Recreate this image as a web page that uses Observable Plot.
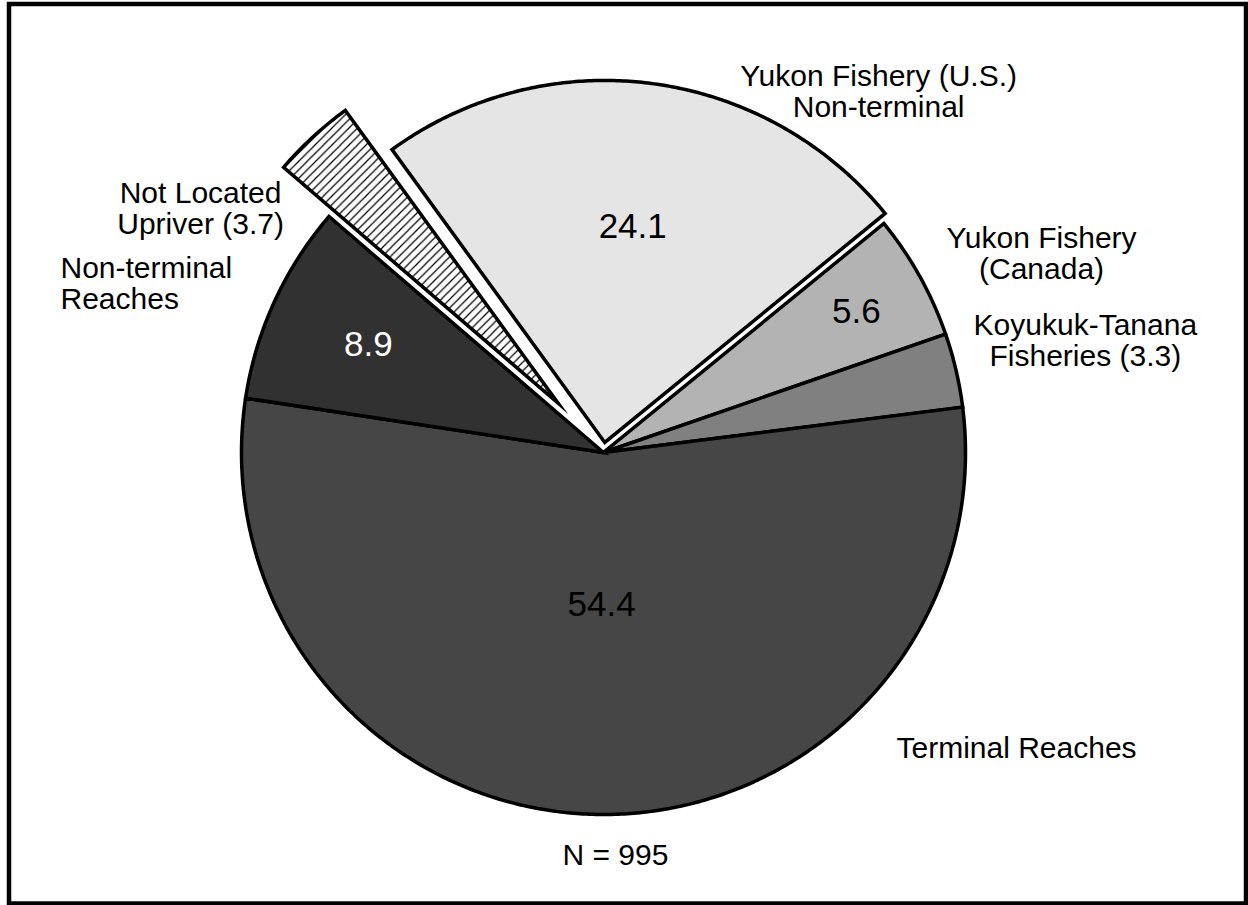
<!DOCTYPE html>
<html><head><meta charset="utf-8">
<script src="https://cdn.jsdelivr.net/npm/d3@7"></script>
<script src="https://cdn.jsdelivr.net/npm/@observablehq/plot@0.6"></script>
<style>body{margin:0;background:#fff;} #chart svg{display:block;}</style>
</head><body><div id="chart"></div>
<script>
// ---- data ----
const categories = ["Yukon Fishery (U.S.) Non-terminal", "Yukon Fishery (Canada)", "Koyukuk-Tanana Fisheries", "Terminal Reaches", "Non-terminal Reaches", "Not Located Upriver"];
const percents = [24.1, 5.6, 3.3, 54.4, 8.9, 3.7];
const valueLabels = ["24.1", "5.6", "", "54.4", "8.9", ""];
const outerLabels = ["Yukon Fishery (U.S.)\nNon-terminal", "Yukon Fishery\n(Canada)", "Koyukuk-Tanana\nFisheries (3.3)", "Terminal Reaches", "Non-terminal\nReaches", "Not Located\nUpriver (3.7)"];
const sampleNote = "N = 995";

// ---- styles / layout ----
const fills = ["#e5e5e5", "#b3b3b3", "#808080", "#464646", "#313131", "url(#hatch)"];
const explode = [0.028, 0, 0, 0, 0, 0.185];
const valueRadius = [0.60, 0.80, 0, 0.42, 0.715, 0];
const valueColor = ["black", "black", "black", "black", "white", "black"];
const outerPos = [[0.76, 0.997, "middle"], [1.21, 0.55, "middle"], [1.331, 0.31, "middle"], [1.141, -0.815, "middle"], [-1.5, 0.467, "start"], [-1.113, 0.674, "middle"]];
const notePos = [0.033, -1.113];
const startAngle = -36;
const R = 362, cx = 603, cy = 452, W = 1248, H = 905;

const total = d3.sum(percents);
let acc = startAngle;
const slices = categories.map((c, i) => {
  const a0 = acc, a1 = acc + percents[i] / total * 360; acc = a1;
  const mid = (a0 + a1) / 2 * Math.PI / 180;
  const ox = explode[i] * Math.sin(mid), oy = explode[i] * Math.cos(mid);
  const pts = [{x: ox, y: oy}];
  const n = Math.max(2, Math.ceil((a1 - a0) / 0.5));
  for (let k = 0; k <= n; k++) {
    const a = (a0 + (a1 - a0) * k / n) * Math.PI / 180;
    pts.push({x: ox + Math.sin(a), y: oy + Math.cos(a)});
  }
  pts.push({x: ox, y: oy});
  pts.push(pts[1]);
  return {i, c, mid, ox, oy, pts};
});

const order = slices.slice().sort((a, b) => explode[a.i] - explode[b.i]);
const sliceMarks = order.map(s => Plot.line(s.pts, {
  x: "x", y: "y", fill: fills[s.i], stroke: "black", strokeWidth: 3.5,
  strokeLinejoin: "miter", strokeLinecap: "butt", strokeMiterlimit: 12, curve: "linear"
}));

const valueData = slices.filter(s => valueLabels[s.i]).map(s => ({
  x: s.ox + valueRadius[s.i] * Math.sin(s.mid),
  y: s.oy + valueRadius[s.i] * Math.cos(s.mid),
  text: valueLabels[s.i], color: valueColor[s.i]
}));
const outerData = slices.map(s => ({x: outerPos[s.i][0], y: outerPos[s.i][1], anchor: outerPos[s.i][2], text: outerLabels[s.i]}));

const font = "'Liberation Sans', Arial, Helvetica, sans-serif";
const plot = Plot.plot({
  width: W, height: H, margin: 0,
  x: {domain: [-cx / R, (W - cx) / R], axis: null},
  y: {domain: [-(H - cy) / R, cy / R], axis: null},
  style: {background: "white", fontFamily: font},
  marks: [
    ...sliceMarks,
    Plot.text(valueData, {x: "x", y: "y", text: "text", fill: d => d.color, fontSize: 35, fontFamily: font}),
    Plot.text(outerData.filter(d => d.anchor === "middle"), {x: "x", y: "y", text: "text", textAnchor: "middle", fontSize: 30, lineHeight: 1.04, fill: "black", fontFamily: font}),
    Plot.text(outerData.filter(d => d.anchor === "start"), {x: "x", y: "y", text: "text", textAnchor: "start", fontSize: 30, lineHeight: 1.04, fill: "black", fontFamily: font}),
    Plot.text([sampleNote], {x: notePos[0], y: notePos[1], text: d => d, fontSize: 30, fill: "black", fontFamily: font}),
    Plot.frame({stroke: "black", strokeWidth: 4.5, insetLeft: 8.5, insetTop: 3.5, insetRight: 2.5, insetBottom: 2})
  ]
});
d3.select(plot).insert("defs", ":first-child").html(
  `<pattern id="hatch" patternUnits="userSpaceOnUse" width="8.5" height="8.5"><rect width="8.5" height="8.5" fill="white"/><path d="M-1,1L1,-1M0,8.5L8.5,0M7.5,9.5L9.5,7.5" stroke="black" stroke-width="1.2"/></pattern>`
);
document.getElementById("chart").appendChild(plot);
</script>
</body></html>
